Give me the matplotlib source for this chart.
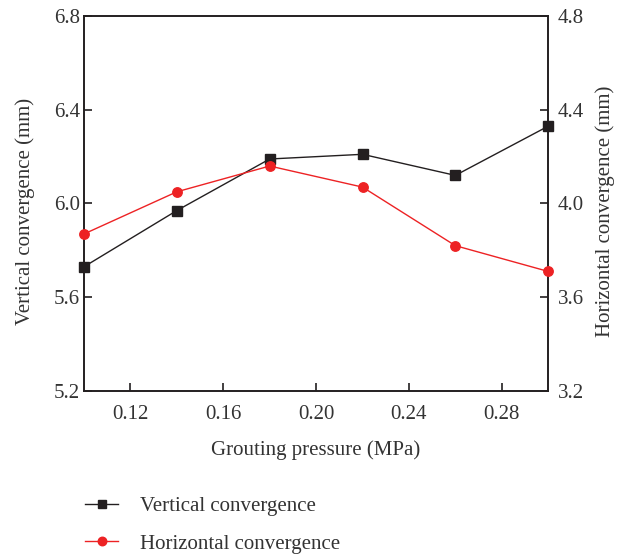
import matplotlib
matplotlib.use("Agg")
import matplotlib.pyplot as plt

plt.rcParams['font.family'] = ['Liberation Serif', 'DejaVu Serif']

pressure = [0.10, 0.14, 0.18, 0.22, 0.26, 0.30]
vertical = [5.73, 5.97, 6.19, 6.21, 6.12, 6.33]
horizontal = [3.87, 4.05, 4.16, 4.07, 3.82, 3.71]
xticks = [0.12, 0.16, 0.20, 0.24, 0.28]
yticks_left = [5.2, 5.6, 6.0, 6.4, 6.8]
yticks_right = [3.2, 3.6, 4.0, 4.4, 4.8]

black = '#231f20'
red = '#ed2224'
txt = '#333333'
fs = 15

fig = plt.figure(figsize=(6.18, 5.56), dpi=100)
ax = fig.add_axes([0.136, 0.297, 0.751, 0.674])
ax2 = ax.twinx()

l1, = ax.plot(pressure, vertical, color=black, marker='s', markersize=6.5, lw=1,
              label='Vertical convergence', clip_on=False, zorder=3)
l2, = ax2.plot(pressure, horizontal, color=red, marker='o', markersize=6.8, lw=1,
               label='Horizontal convergence', clip_on=False, zorder=3)

ax.set_xlim(0.10, 0.30)
ax.set_ylim(5.2, 6.8)
ax2.set_ylim(3.2, 4.8)
ax.set_xticks(xticks)
ax.set_xticklabels([f'{v:.2f}' for v in xticks])
ax.set_yticks(yticks_left)
ax.set_yticklabels([f'{v:.1f}' for v in yticks_left])
ax2.set_yticks(yticks_right)
ax2.set_yticklabels([f'{v:.1f}' for v in yticks_right])

for a in (ax, ax2):
    for s in a.spines.values():
        s.set_linewidth(1.2)
        s.set_color(black)
ax.tick_params(axis='both', direction='in', length=6, width=1.2, labelsize=fs, colors=black, labelcolor=txt)
ax.tick_params(axis='x', pad=10)
ax.tick_params(axis='y', pad=3)
ax2.tick_params(axis='y', direction='in', length=6, width=1.2, labelsize=fs, colors=black, labelcolor=txt, pad=7)

ax.set_xlabel('Grouting pressure (MPa)', fontsize=fs, color=txt, labelpad=12)
ax.set_ylabel('Vertical convergence (mm)', fontsize=fs, color=txt)
ax2.set_ylabel('Horizontal convergence (mm)', fontsize=fs, color=txt)
ax.yaxis.set_label_coords(-0.106, 0.48)
ax2.yaxis.set_label_coords(1.102, 0.48)

fig.legend(handles=[l1, l2], loc='upper left', bbox_to_anchor=(0.107, 0.14), frameon=False,
           fontsize=fs, handlelength=1.6, handletextpad=1.05, labelspacing=0.85, labelcolor=txt,
           markerscale=0.9)

fig.savefig('out.png', dpi=100)
